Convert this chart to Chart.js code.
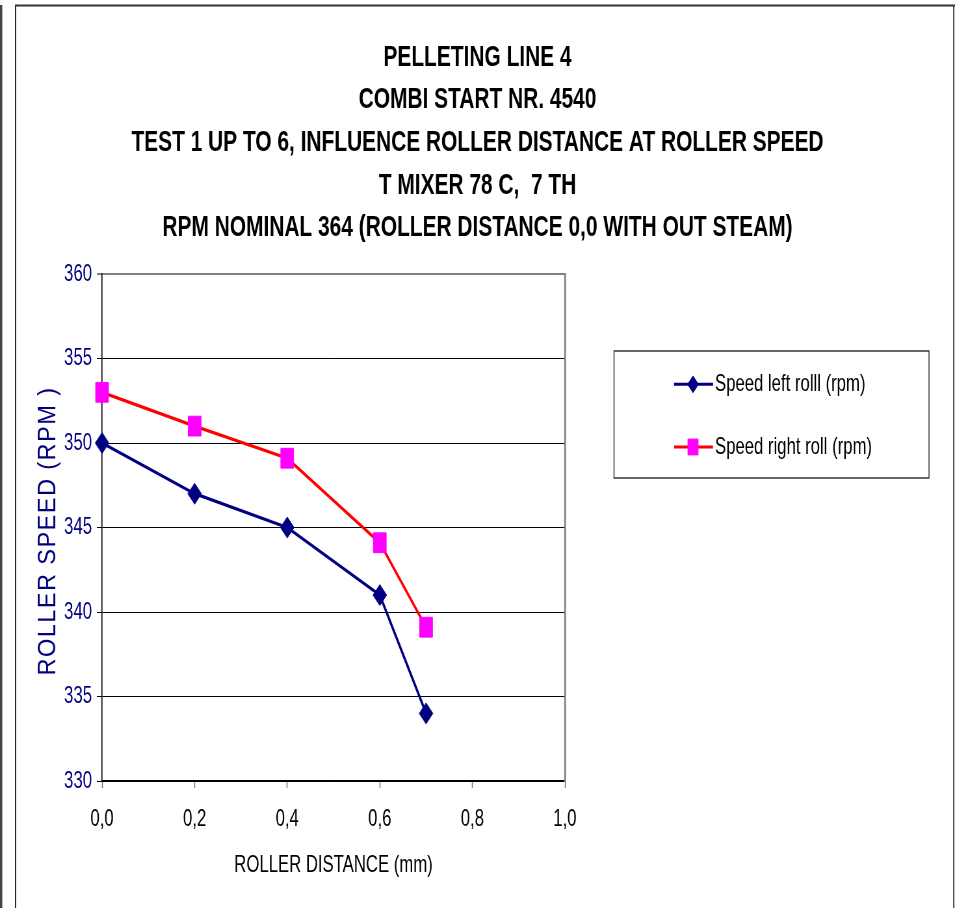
<!DOCTYPE html>
<html><head><meta charset="utf-8">
<script src="https://cdn.jsdelivr.net/npm/chart.js@4"></script>
<style>
html,body{margin:0;padding:0;background:#fff;overflow:hidden;}
#wrap{width:1469px;height:908px;transform:scaleX(0.650102);transform-origin:0 0;}
canvas{display:block;}
</style></head><body>
<div id="wrap"><canvas id="c" width="1469" height="908"></canvas></div>
<script>
const titleLines = [
  'PELLETING LINE 4',
  'COMBI START NR. 4540',
  'TEST 1 UP TO 6, INFLUENCE ROLLER DISTANCE AT ROLLER SPEED',
  'T MIXER 78 C,  7 TH',
  'RPM NOMINAL 364 (ROLLER DISTANCE 0,0 WITH OUT STEAM)'
];
const distances = [0, 0.2, 0.4, 0.6, 0.7];
const speedLeft = [350, 347, 345, 341, 334];
const speedRight = [353, 351, 349.1, 344.1, 339.1];
const seriesNames = ['Speed left rolll (rpm)', 'Speed right roll (rpm)'];
const xTickLabels = ['0,0', '0,2', '0,4', '0,6', '0,8', '1,0'];
const yTickValues = [330, 335, 340, 345, 350, 355, 360];
const xAxisTitle = 'ROLLER DISTANCE (mm)';
const yAxisTitle = 'ROLLER SPEED (RPM )';

const FONT = "'Liberation Sans', Arial, sans-serif";
const TEXT_SCALE = 1.0717; // horizontal glyph scale relative to the squeezed page

const canvas = document.getElementById('c');
const ctx2d = canvas.getContext('2d');
const origFill = ctx2d.fillText.bind(ctx2d);
const origMeasure = ctx2d.measureText.bind(ctx2d);
ctx2d.fillText = function (t, x, y) {
  this.save();
  this.translate(x, y);
  this.scale(TEXT_SCALE, 1);
  origFill(t, 0, 0);
  this.restore();
};
ctx2d.measureText = function (t) {
  const m = origMeasure(t);
  return {
    width: m.width * TEXT_SCALE,
    actualBoundingBoxLeft: m.actualBoundingBoxLeft * TEXT_SCALE,
    actualBoundingBoxRight: m.actualBoundingBoxRight * TEXT_SCALE,
    actualBoundingBoxAscent: m.actualBoundingBoxAscent,
    actualBoundingBoxDescent: m.actualBoundingBoxDescent,
    fontBoundingBoxAscent: m.fontBoundingBoxAscent,
    fontBoundingBoxDescent: m.fontBoundingBoxDescent
  };
};

const framePlugin = {
  id: 'frame',
  beforeDraw(chart) {
    const ctx = chart.ctx;
    ctx.save();
    ctx.fillStyle = '#fff';
    ctx.fillRect(0, 0, chart.width, chart.height);
    ctx.fillStyle = '#444';
    ctx.fillRect(0, 5, 3.5, chart.height);
    ctx.fillStyle = '#000';
    ctx.fillRect(23.1, 5, 1.6, chart.height);
    ctx.fillStyle = '#333';
    ctx.fillRect(23.1, 4.5, chart.width, 2);
    ctx.fillRect(1466.2, 5, 1.8, chart.height);
    ctx.restore();
  }
};

const legendPlugin = {
  id: 'boxLegend',
  afterDraw(chart) {
    const ctx = chart.ctx;
    ctx.save();
    ctx.strokeStyle = '#333';
    ctx.lineWidth = 1.5;
    ctx.strokeRect(944.5, 351, 484.5, 127);
    const rows = [384.3, 447];
    chart.data.datasets.forEach((ds, i) => {
      const y = rows[i];
      ctx.strokeStyle = ds.borderColor;
      ctx.lineWidth = 3;
      ctx.beginPath();
      ctx.moveTo(1036.8, y);
      ctx.lineTo(1096.8, y);
      ctx.stroke();
      ctx.fillStyle = ds.pointBackgroundColor;
      ctx.strokeStyle = ds.pointBorderColor;
      ctx.lineWidth = 1;
      Chart.helpers.drawPoint(ctx, {pointStyle: ds.pointStyle, radius: ds.pointRadius * 0.8, borderWidth: 1, rotation: 0}, 1066, y);
      ctx.fillStyle = '#000';
      ctx.font = '24px ' + FONT;
      ctx.textBaseline = 'middle';
      ctx.textAlign = 'left';
      ctx.fillText(ds.label, 1099.8, y);
    });
    // vertical, letter-spaced y axis title
    ctx.translate(74.9, 531);
    ctx.rotate(-Math.PI / 2);
    ctx.scale(0.62, 1);
    ctx.font = '38px ' + FONT;
    try { ctx.letterSpacing = '2.3px'; } catch (e) {}
    ctx.fillStyle = '#000080';
    ctx.textAlign = 'center';
    ctx.textBaseline = 'middle';
    origFill(yAxisTitle, 0, 0);
    ctx.restore();
  }
};

new Chart(canvas, {
  type: 'line',
  data: {
    datasets: [
      {
        label: seriesNames[0],
        data: distances.map((x, i) => ({x: x, y: speedLeft[i]})),
        borderColor: '#000080', backgroundColor: '#000080', borderWidth: 3.3,
        pointStyle: 'rectRot', pointRadius: 10.5, pointBorderWidth: 1,
        pointBackgroundColor: '#000080', pointBorderColor: '#000080',
        tension: 0, clip: false
      },
      {
        label: seriesNames[1],
        data: distances.map((x, i) => ({x: x, y: speedRight[i]})),
        borderColor: '#FF0000', backgroundColor: '#FF00FF', borderWidth: 3.3,
        pointStyle: 'rect', pointRadius: 14, pointBorderWidth: 1,
        pointBackgroundColor: '#FF00FF', pointBorderColor: '#FF00FF',
        tension: 0, clip: false
      }
    ]
  },
  options: {
    responsive: false, animation: false, devicePixelRatio: 1,
    layout: {padding: {left: 0, right: 0, top: 0, bottom: 10}},
    plugins: {
      legend: {display: false},
      tooltip: {enabled: false},
      title: {
        display: true, text: titleLines, color: '#000',
        font: {family: FONT, size: 30, weight: 'bold', lineHeight: 1.42},
        padding: {top: 36.2, bottom: 24.8}
      }
    },
    scales: {
      x: {
        type: 'linear', min: 0, max: 1,
        afterFit: s => { s.height = 117; },
        ticks: {stepSize: 0.2, color: '#000', font: {family: FONT, size: 24}, padding: 16.6,
          maxRotation: 0, autoSkip: false, callback: (v, i) => xTickLabels[i]},
        grid: {drawOnChartArea: false, drawTicks: true, tickLength: 7, tickColor: '#777', tickWidth: 1.5},
        border: {color: '#000', width: 1.5},
        title: {display: true, text: xAxisTitle, color: '#000', font: {family: FONT, size: 24},
          padding: {top: 0, bottom: 18.6}}
      },
      y: {
        type: 'linear', min: 330, max: 360,
        afterFit: s => { s.width = 157; },
        afterBuildTicks: s => { s.ticks = yTickValues.map(v => ({value: v})); },
        ticks: {color: '#000080', font: {family: FONT, size: 24}, padding: 7.5},
        grid: {
          color: c => (c.tick && c.tick.value === 360) ? '#808080' : '#000',
          lineWidth: c => (c.tick && c.tick.value === 360) ? 2 : 1,
          tickLength: 8, tickColor: '#000', tickWidth: 1
        },
        border: {color: '#000', width: 1.6}
      },
      y2: {
        type: 'linear', position: 'right', display: true,
        afterFit: s => { s.width = 600; },
        ticks: {display: false},
        grid: {display: false, drawTicks: false},
        border: {color: '#808080', width: 2.6}
      }
    }
  },
  plugins: [framePlugin, legendPlugin]
});
</script>
</body></html>
